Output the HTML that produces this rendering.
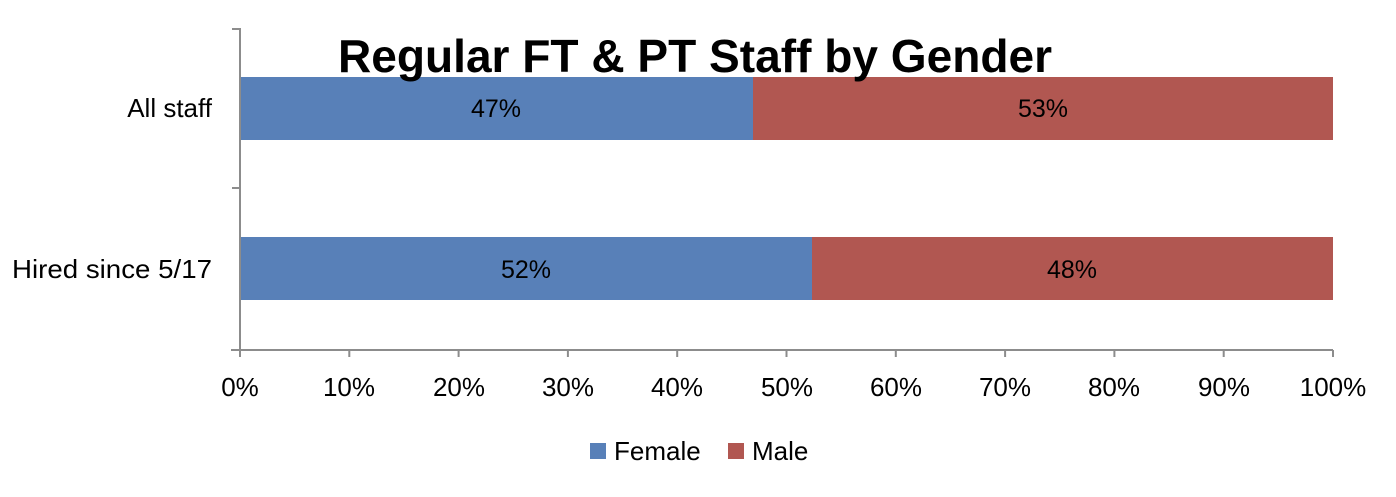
<!DOCTYPE html>
<html><head><style>body{margin:0;background:#fff}</style></head><body>
<svg width="1396" height="492" xmlns="http://www.w3.org/2000/svg" font-family="Liberation Sans, sans-serif">
<rect x="240" y="77" width="513" height="63" fill="#5880b8"/>
<rect x="753" y="77" width="580" height="63" fill="#b15751"/>
<rect x="240" y="237" width="572" height="63" fill="#5880b8"/>
<rect x="812" y="237" width="521" height="63" fill="#b15751"/>
<g stroke="#8c8c8c" stroke-width="2" fill="none">
<line x1="240" y1="28" x2="240" y2="350"/>
<line x1="231" y1="350" x2="1333" y2="350"/>
<line x1="232" y1="29" x2="240" y2="29"/>
<line x1="232" y1="188" x2="240" y2="188"/>
<line x1="240" y1="350" x2="240" y2="357"/><line x1="349.3" y1="350" x2="349.3" y2="357"/><line x1="458.6" y1="350" x2="458.6" y2="357"/><line x1="567.9" y1="350" x2="567.9" y2="357"/><line x1="677.2" y1="350" x2="677.2" y2="357"/><line x1="786.5" y1="350" x2="786.5" y2="357"/><line x1="895.8" y1="350" x2="895.8" y2="357"/><line x1="1005.1" y1="350" x2="1005.1" y2="357"/><line x1="1114.4" y1="350" x2="1114.4" y2="357"/><line x1="1223.7" y1="350" x2="1223.7" y2="357"/><line x1="1333" y1="350" x2="1333" y2="357"/>
</g>
<text x="338" y="72" font-size="46" font-weight="bold" textLength="714" lengthAdjust="spacingAndGlyphs">Regular FT &amp; PT Staff by Gender</text>
<g font-size="25" text-anchor="middle" fill="#000">
<text x="496" y="117">47%</text><text x="1043" y="117">53%</text>
<text x="526" y="278">52%</text><text x="1072" y="278">48%</text>
</g>
<g font-size="26" text-anchor="end"><text x="212" y="117">All staff</text><text x="212" y="278" textLength="200" lengthAdjust="spacingAndGlyphs">Hired since 5/17</text></g>
<g font-size="26" text-anchor="middle">
<text x="240" y="396">0%</text><text x="349" y="396">10%</text><text x="459" y="396">20%</text><text x="568" y="396">30%</text><text x="677" y="396">40%</text><text x="787" y="396">50%</text><text x="896" y="396">60%</text><text x="1005" y="396">70%</text><text x="1114" y="396">80%</text><text x="1224" y="396">90%</text><text x="1333" y="396">100%</text>
</g>
<rect x="590" y="443" width="16" height="16" fill="#5880b8"/>
<text x="614" y="460" font-size="26">Female</text>
<rect x="728" y="443" width="16" height="16" fill="#b15751"/>
<text x="752" y="460" font-size="26">Male</text>
</svg>
</body></html>
